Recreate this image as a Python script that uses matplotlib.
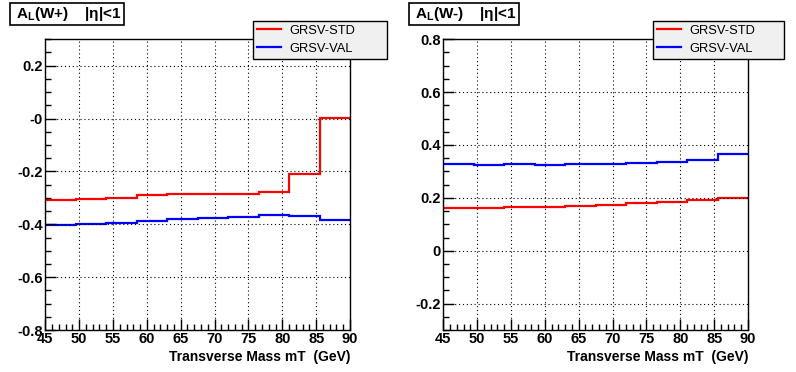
import matplotlib
matplotlib.use("Agg")
import matplotlib.pyplot as plt
from matplotlib.ticker import MultipleLocator, FixedLocator, FixedFormatter
from matplotlib.patches import Rectangle

plt.rcParams['font.family'] = ['Liberation Sans', 'DejaVu Sans']
plt.rcParams['mathtext.fontset'] = 'custom'
plt.rcParams['mathtext.rm'] = 'Liberation Sans'
plt.rcParams['mathtext.bf'] = 'Liberation Sans:bold'

# ── data ───────────────────────────────────────
bin_edges = [45, 49.5, 54, 58.5, 63, 67.5, 72, 76.5, 81, 85.5, 90]

wplus_std = [-0.309, -0.305, -0.299, -0.291, -0.287, -0.286, -0.284, -0.279, -0.208, 0.001]
wplus_val = [-0.403, -0.399, -0.395, -0.389, -0.379, -0.376, -0.373, -0.365, -0.369, -0.384]

wminus_std = [0.161, 0.161, 0.165, 0.165, 0.168, 0.172, 0.180, 0.185, 0.191, 0.199]
wminus_val = [0.328, 0.323, 0.327, 0.323, 0.327, 0.327, 0.331, 0.334, 0.342, 0.366]

xticks = [45, 50, 55, 60, 65, 70, 75, 80, 85, 90]
left_yticks = [-0.8, -0.6, -0.4, -0.2, 0.0, 0.2]
left_ylabels = ['-0.8', '-0.6', '-0.4', '-0.2', '-0', '0.2']
right_yticks = [-0.2, 0.0, 0.2, 0.4, 0.6, 0.8]
right_ylabels = ['-0.2', '0', '0.2', '0.4', '0.6', '0.8']

panels = [
    dict(title=r'$\mathbf{A_L}$(W+)    |η|<1', std=wplus_std, val=wplus_val,
         ylim=(-0.8, 0.3), yticks=left_yticks, ylabels=left_ylabels,
         ax_rect=[0.0569, 0.1129, 0.3828, 0.7815],
         title_box=(10, 3, 114, 22), leg_box=(253, 21, 134, 37)),
    dict(title=r'$\mathbf{A_L}$(W-)    |η|<1', std=wminus_std, val=wminus_val,
         ylim=(-0.3, 0.8), yticks=right_yticks, ylabels=right_ylabels,
         ax_rect=[0.5569, 0.1129, 0.3828, 0.7815],
         title_box=(409, 3, 110, 22), leg_box=(653, 21, 131, 37)),
]

W, H = 796, 372
fig = plt.figure(figsize=(W / 100, H / 100), dpi=100, facecolor='white')

for p in panels:
    ax = fig.add_axes(p['ax_rect'])
    ax.stairs(p['std'], bin_edges, baseline=None, color='#ff0000', lw=1.6, label='GRSV-STD')
    ax.stairs(p['val'], bin_edges, baseline=None, color='#0000ff', lw=1.6, label='GRSV-VAL')

    ax.set_xlim(45, 90)
    ax.set_ylim(*p['ylim'])
    ax.xaxis.set_major_locator(FixedLocator(xticks))
    ax.xaxis.set_minor_locator(MultipleLocator(1))
    ax.yaxis.set_major_locator(FixedLocator(p['yticks']))
    ax.yaxis.set_major_formatter(FixedFormatter(p['ylabels']))
    ax.yaxis.set_minor_locator(MultipleLocator(0.05))

    ax.tick_params(which='both', direction='in', width=1, labelsize=10.5)
    ax.tick_params(which='major', length=8)
    ax.tick_params(which='minor', length=4)
    ax.tick_params(axis='x', pad=1.5)
    ax.tick_params(axis='y', pad=2)
    for lbl in ax.get_xticklabels() + ax.get_yticklabels():
        lbl.set_fontweight('bold')
    ax.grid(True, which='major', color='black', ls=(0, (1, 2.5)), lw=0.8)
    for spine in ax.spines.values():
        spine.set_linewidth(1)

    ax.set_xlabel('Transverse Mass mT  (GeV)', fontsize=10, fontweight='bold',
                  loc='right', labelpad=3)

    # title box
    tx, ty, tw, th = p['title_box']
    fig.patches.append(Rectangle((tx / W, 1 - (ty + th) / H), tw / W, th / H,
                                 transform=fig.transFigure, facecolor='white',
                                 edgecolor='black', lw=1.2))
    fig.text((tx + 6) / W, 1 - (ty + th / 2) / H, p['title'], fontsize=11,
             fontweight='bold', va='center', ha='left')

    # legend
    lx, ly, lw_, lh = p['leg_box']
    leg = ax.legend(loc='upper left', mode='expand',
                    bbox_to_anchor=(lx / W, 1 - (ly + lh) / H, lw_ / W, lh / H),
                    bbox_transform=fig.transFigure, borderaxespad=0,
                    fontsize=9.3, handlelength=1.9, handletextpad=0.6,
                    fancybox=False, framealpha=1, facecolor='#f0f0f0',
                    edgecolor='black', borderpad=0.3, labelspacing=0.45)
    leg.get_frame().set_linewidth(1)

plt.savefig('out.png', dpi=100, facecolor=fig.get_facecolor())
